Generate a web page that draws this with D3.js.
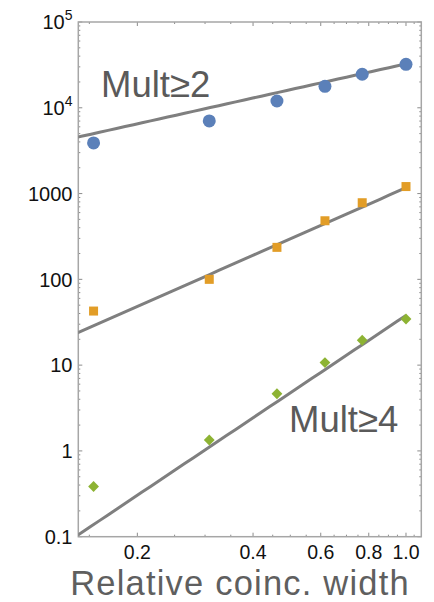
<!DOCTYPE html>
<html>
<head>
<meta charset="utf-8">
<script src="https://cdn.jsdelivr.net/npm/d3@7"></script>
<style>
  html, body { margin: 0; padding: 0; background: #fff; }
  svg { display: block; font-family: "Liberation Sans", Arial, Helvetica, sans-serif; }
</style>
</head>
<body>
<svg id="chart" width="434" height="602"></svg>
<script>
// Relative coincidence width (fraction of the full window)
const widths = [2/13, 4/13, 6/13, 8/13, 10/13, 1.0];

// Coincidence counts per multiplicity threshold
const multGe2 = [3890, 7020, 12000, 17800, 24600, 32100];
const multGe3 = [42.7, 100, 236, 482, 782, 1207];
const multGe4 = [0.385, 1.34, 4.64, 10.7, 19.5, 34.5];

// Power-law fits: count = amplitude * width^exponent
const fitAmplitude = [32500, 1170, 38];
const fitExponent = [1.0, 1.98, 3.0];

// Axis ticks
const yMajorTicks = [0.1, 1, 10, 100, 1000, 1e4, 1e5];
const xMajorTicks = [0.2, 0.4, 0.6, 0.8, 1.0];
const xTickLabels = ["0.2", "0.4", "0.6", "0.8", "1.0"];

const svg = d3.select("#chart");
const plotL = 78.3, plotR = 421.3, plotT = 22, plotB = 536.7;

const x = d3.scaleLog().domain([0.1404, 1.096]).range([plotL, plotR]);
const y = d3.scaleLog().domain([0.1, 1e5]).range([plotB, plotT]);

const frameColor = "#a6a6a6";
const tickColor = "#8c8c8c";

// Clip for the plot area
svg.append("defs").append("clipPath").attr("id", "plotClip")
  .append("rect").attr("x", plotL).attr("y", plotT)
  .attr("width", plotR - plotL).attr("height", plotB - plotT);

// Minor tick positions
const yMinor = [];
for (let e = -1; e < 5; e++) for (let m = 2; m <= 9; m++) yMinor.push(m * Math.pow(10, e));
const xMinor = [];
for (let k = 3; k <= 21; k++) {
  const r = k * 0.05;
  if (!xMajorTicks.some(t => Math.abs(t - r) < 1e-6)) xMinor.push(r);
}

const ticks = svg.append("g").attr("stroke", tickColor).attr("stroke-width", 1);
// left & right
yMajorTicks.forEach(v => {
  ticks.append("line").attr("x1", plotL).attr("x2", plotL + 4).attr("y1", y(v)).attr("y2", y(v));
  ticks.append("line").attr("x1", plotR).attr("x2", plotR - 4).attr("y1", y(v)).attr("y2", y(v));
});
yMinor.forEach(v => {
  ticks.append("line").attr("x1", plotL).attr("x2", plotL + 2).attr("y1", y(v)).attr("y2", y(v));
  ticks.append("line").attr("x1", plotR).attr("x2", plotR - 2).attr("y1", y(v)).attr("y2", y(v));
});
// bottom & top
xMajorTicks.forEach(v => {
  ticks.append("line").attr("y1", plotB).attr("y2", plotB - 4).attr("x1", x(v)).attr("x2", x(v));
  ticks.append("line").attr("y1", plotT).attr("y2", plotT + 4).attr("x1", x(v)).attr("x2", x(v));
});
xMinor.forEach(v => {
  ticks.append("line").attr("y1", plotB).attr("y2", plotB - 2).attr("x1", x(v)).attr("x2", x(v));
  ticks.append("line").attr("y1", plotT).attr("y2", plotT + 2).attr("x1", x(v)).attr("x2", x(v));
});

// Frame
svg.append("rect").attr("x", plotL).attr("y", plotT)
  .attr("width", plotR - plotL).attr("height", plotB - plotT)
  .attr("fill", "none").attr("stroke", frameColor).attr("stroke-width", 1.5);

// Fit lines
const plot = svg.append("g").attr("clip-path", "url(#plotClip)");
const line = d3.line().x(d => x(d[0])).y(d => y(d[1]));
fitAmplitude.forEach((a, i) => {
  const xs = d3.range(0, 41).map(k => Math.pow(10, Math.log10(0.13) * (1 - k / 40)));
  const fitPts = xs.map(v => [v, a * Math.pow(v, fitExponent[i])]);
  plot.append("path").attr("d", line(fitPts))
    .attr("fill", "none").attr("stroke", "#7f7f7f").attr("stroke-width", 3);
});

// Data markers
const marks = svg.append("g");
marks.selectAll("circle").data(widths.map((w, i) => [w, multGe2[i]])).enter()
  .append("circle").attr("cx", d => x(d[0])).attr("cy", d => y(d[1])).attr("r", 6.5)
  .attr("fill", "#5b80b9");
marks.selectAll("rect").data(widths.map((w, i) => [w, multGe3[i]])).enter()
  .append("rect").attr("x", d => x(d[0]) - 4.5).attr("y", d => y(d[1]) - 4.5)
  .attr("width", 9).attr("height", 9).attr("fill", "#e29d27");
marks.selectAll("path").data(widths.map((w, i) => [w, multGe4[i]])).enter()
  .append("path")
  .attr("d", d => { const cx = x(d[0]), cy = y(d[1]), s = 5.4;
    return `M${cx},${cy - s}L${cx + s},${cy}L${cx},${cy + s}L${cx - s},${cy}Z`; })
  .attr("fill", "#8db333");

// Y tick labels
const yLab = svg.append("g").attr("font-size", 20).attr("fill", "#111").attr("text-anchor", "end");
yMajorTicks.forEach(v => {
  const t = yLab.append("text").attr("x", 72.5).attr("y", y(v) + 7.3);
  if (v >= 1e4) {
    t.append("tspan").text("10");
    t.append("tspan").attr("font-size", 14).attr("dy", -9).text(String(Math.round(Math.log10(v))));
  } else {
    t.text(v < 1 ? "0.1" : String(v));
  }
});

// X tick labels
const xLab = svg.append("g").attr("font-size", 19.5).attr("fill", "#111").attr("text-anchor", "middle");
xMajorTicks.forEach((v, i) => {
  xLab.append("text").attr("x", x(v)).attr("y", 559).text(xTickLabels[i]);
});

// Axis title
svg.append("text").attr("x", (65 + 415) / 2).attr("y", 594.5).attr("text-anchor", "middle")
  .attr("font-size", 34.5).attr("letter-spacing", 1.2).attr("fill", "#5f5f5f")
  .text("Relative coinc. width");

// Series labels
svg.append("text").attr("x", 101).attr("y", 97.3).attr("font-size", 36.5)
  .attr("fill", "#5a5a5a").text("Mult≥2");
svg.append("text").attr("x", 289).attr("y", 431.7).attr("font-size", 36.5)
  .attr("fill", "#5a5a5a").text("Mult≥4");
</script>
</body>
</html>
